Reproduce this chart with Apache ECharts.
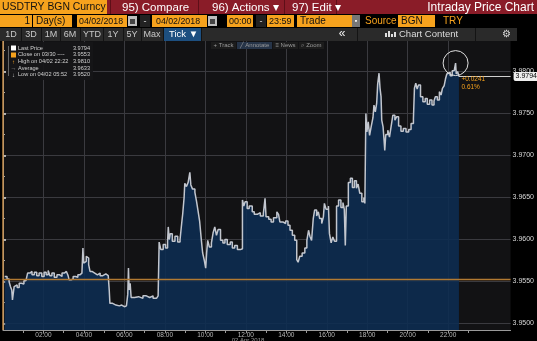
<!DOCTYPE html>
<html><head><meta charset="utf-8">
<script src="https://cdn.jsdelivr.net/npm/echarts@6/dist/echarts.min.js"></script>
<style>html,body{margin:0;padding:0;background:#000;}#c{width:537px;height:341px;}</style>
</head><body><div id="c"></div>
<script>
// ---- data ----
const times = [
'00:05','00:12','00:18','00:22','00:26','00:28','00:31','00:33','00:36','00:42',
'00:48','00:55','01:02','01:08','01:13','01:20','01:26','01:33','01:40','01:47',
'01:55','02:02','02:08','02:14','02:19','02:25','02:32','02:40','02:48','02:55',
'03:02','03:08','03:13','03:16','03:22','03:28','03:35','03:42','03:48','03:54',
'03:57','03:59','04:03','04:07','04:10','04:14','04:18','04:24','04:32','04:40',
'04:48','04:56','05:05','05:12','05:15','05:17','05:25','05:35','05:45','05:52',
'06:00','06:06','06:10','06:12','06:14','06:17','06:20','06:30','06:42','06:55',
'07:05','07:15','07:25','07:35','07:40','07:43','07:48','07:55','08:02','08:08',
'08:10','08:13','08:16','08:22','08:30','08:38','08:45','08:50','08:53','08:57',
'08:59','09:04','09:09','09:14','09:17','09:22','09:29','09:34','09:38','09:43',
'09:48','09:52','09:57','10:01','10:04','10:07','10:12','10:18','10:23','10:28',
'10:33','10:38','10:45','10:52','10:58','11:05','11:14','11:20','11:27','11:35',
'11:44','11:50','11:54','11:58','12:04','12:10','12:19','12:25','12:34','12:43',
'12:52','12:57','13:00','13:08','13:15','13:22','13:32','13:37','13:41','13:50',
'13:58','14:05','14:11','14:18','14:25','14:31','14:35','14:40','14:47','14:55',
'15:01','15:06','15:10','15:15','15:20','15:24','15:30','15:35','15:39','15:45',
'15:50','15:53','15:58','16:05','16:08','16:13','16:18','16:23','16:29','16:35',
'16:42','16:48','16:52','16:55','16:58','17:04','17:10','17:16','17:22','17:28',
'17:33','17:38','17:44','17:50','17:53','17:56','17:59','18:03','18:07','18:12',
'18:17','18:20','18:24','18:28','18:31','18:35','18:38','18:41','18:43','18:47',
'18:50','18:52','18:55','19:01','19:06','19:11','19:16','19:22','19:27','19:33',
'19:40','19:47','19:55','20:03','20:10','20:17','20:20','20:24','20:28','20:32',
'20:38','20:45','20:52','20:58','21:05','21:12','21:18','21:22','21:28','21:34',
'21:39','21:43','21:48','21:52','21:56','22:00','22:06','22:12','22:18','22:22',
'22:24','22:28','22:32'
];
const prices = [
3.9556,3.9553,3.9550,3.9544,3.9540,3.9528,3.9530,3.9544,3.9546,3.9543,
3.9548,3.9547,3.9551,3.9550,3.9560,3.9562,3.9558,3.9561,3.9557,3.9560,
3.9556,3.9561,3.9558,3.9563,3.9557,3.9560,3.9555,3.9558,3.9556,3.9560,
3.9562,3.9564,3.9557,3.9552,3.9553,3.9556,3.9555,3.9558,3.9560,3.9562,
3.9590,3.9572,3.9574,3.9580,3.9578,3.9570,3.9562,3.9560,3.9558,3.9560,
3.9557,3.9559,3.9557,3.9558,3.9540,3.9524,3.9522,3.9521,3.9522,3.9520,
3.9521,3.9523,3.9535,3.9566,3.9540,3.9548,3.9531,3.9532,3.9530,3.9533,
3.9531,3.9533,3.9530,3.9531,3.9533,3.9597,3.9588,3.9594,3.9590,3.9597,
3.9615,3.9600,3.9607,3.9598,3.9604,3.9597,3.9600,3.9620,3.9631,3.9650,
3.9667,3.9663,3.9668,3.9680,3.9665,3.9660,3.9656,3.9645,3.9635,3.9622,
3.9600,3.9584,3.9575,3.9566,3.9585,3.9599,3.9591,3.9596,3.9608,3.9615,
3.9605,3.9612,3.9599,3.9596,3.9600,3.9594,3.9597,3.9590,3.9593,3.9588,
3.9589,3.9647,3.9640,3.9645,3.9637,3.9640,3.9633,3.9630,3.9632,3.9628,
3.9631,3.9649,3.9627,3.9624,3.9621,3.9626,3.9633,3.9630,3.9621,3.9619,
3.9622,3.9617,3.9611,3.9605,3.9599,3.9576,3.9573,3.9580,3.9584,3.9590,
3.9599,3.9611,3.9604,3.9599,3.9625,3.9635,3.9628,3.9633,3.9625,3.9619,
3.9627,3.9643,3.9636,3.9640,3.9607,3.9596,3.9603,3.9598,3.9640,3.9647,
3.9638,3.9644,3.9636,3.9593,3.9640,3.9668,3.9673,3.9662,3.9670,3.9661,
3.9666,3.9655,3.9645,3.9650,3.9643,3.9750,3.9728,3.9740,3.9724,3.9735,
3.9745,3.9760,3.9752,3.9762,3.9785,3.9798,3.9780,3.9770,3.9742,3.9734,
3.9718,3.9706,3.9725,3.9730,3.9722,3.9735,3.9748,3.9742,3.9746,3.9735,
3.9729,3.9732,3.9728,3.9731,3.9738,3.9744,3.9780,3.9786,3.9779,3.9784,
3.9770,3.9764,3.9768,3.9761,3.9766,3.9760,3.9765,3.9770,3.9766,3.9776,
3.9772,3.9780,3.9783,3.9791,3.9797,3.9799,3.9795,3.9801,3.9800,3.9810,
3.9797,3.9800,3.9794
];
const yMajor = [3.9500,3.9550,3.9600,3.9650,3.9700,3.9750,3.9800];
const yMinor = [3.9525,3.9575,3.9625,3.9675,3.9725,3.9775,3.9825];
const xLabelHours = [2,4,6,8,10,12,14,16,18,20,22];
const xMinorHours = [1,3,5,7,9,11,13,15,17,19,21,23];
const closePrev = 3.9553;
const lastPrice = 3.9794;
const highTime = '22:22', highPrice = 3.9810;
const changeAbs = '+0.0241', changePct = '0.61%';
const legendRows = [
  ['Last Price','3.9794'],
  ['Close on 03/30 ----','3.9553'],
  ['High on 04/02 22:22','3.9810'],
  ['Average','3.9633'],
  ['Low on 04/02 05:52','3.9520']
];
const dateLabel = '02 Apr 2018';

// ---- helpers ----
const FONT = 'Liberation Sans, Arial, sans-serif';
const toH = t => { const p = t.split(':'); return +p[0] + (+p[1]) / 60; };
const pad = n => (n < 10 ? '0' : '') + n;
const seriesData = times.map((t, i) => [toH(t), prices[i]]);
const lastT = toH(times[times.length - 1]);
const X_MAX = 25.085, Y_MIN = 3.94923, Y_MAX = 3.98363;

function rect(x, y, w, h, fill, z) {
  return {type:'rect', z: z||100, shape:{x, y, width:w, height:h}, style:{fill}, silent:true};
}
function txt(x, y, text, fill, size, align, weight) {
  return {type:'text', z:101, x, y, silent:true,
    style:{text, fill, font:(weight||'normal') + ' ' + size + 'px ' + FONT,
      align: align||'left', textAlign: align||'left', verticalAlign:'middle', textVerticalAlign:'middle'}};
}
function vline(x, y1, y2, color) {
  return {type:'line', z:101, silent:true, shape:{x1:x, y1, x2:x, y2}, style:{stroke:color, lineWidth:1}};
}

const ORANGE = '#f6a21d', RED = '#8a1c28', DARK = '#111';
const g = [];
// Row 1
g.push(rect(0,0,537,14,RED));
g.push(rect(0,0,107,14,ORANGE));
g.push(txt(2,7.5,'USDTRY BGN Curncy',DARK,10.4));
[110,198,284,336].forEach(x => g.push(vline(x+0.5,0,14,'#5e0f18')));
g.push(txt(122,7.5,'95) Compare','#fff',11.5));
g.push(txt(212,7.5,'96) Actions \u25BE','#fff',11.5));
g.push(txt(292,7.5,'97) Edit \u25BE','#fff',11.5));
g.push(txt(534,7.5,'Intraday Price Chart','#fff',12,'right'));
// Row 2
g.push(rect(0,14,537,14,'#000'));
const boxes = [[0,32],[33,39],[77,50],[152,55],[227,26],[267,27],[297,55],[398,37]];
boxes.forEach(b => g.push(rect(b[0],15,b[1],12,ORANGE)));
g.push(txt(30,21.5,'1',DARK,10,'right'));
g.push(txt(36,21.5,'Day(s)',DARK,10));
g.push(txt(79,21.5,'04/02/2018',DARK,8.8));
g.push(txt(156,21.5,'04/02/2018',DARK,8.8));
g.push(txt(229,21.5,'00:00',DARK,9));
g.push(txt(269,21.5,'23:59',DARK,9));
g.push(txt(300,21.5,'Trade',DARK,10));
g.push(txt(401,21.5,'BGN',DARK,10));
[128,208].forEach(x => { g.push(rect(x,16,9,10,'#bdbdbd')); g.push(rect(x+2,19,5,5,'#444')); });
[140,256].forEach(x => { g.push(rect(x,15,10,12,'#222')); g.push(txt(x+5,21.5,'-','#ddd',9,'center')); });
g.push(rect(352,15,8,12,'#777'));
g.push(txt(356,21.5,'\u25AA','#fff',7,'center'));
g.push(txt(365,21.5,'Source',ORANGE,10));
g.push(txt(443,21.5,'TRY',ORANGE,10));
// Row 3
g.push(rect(0,28,517,13,'#2a2a2a'));
const btns = [['1D',11],['3D',31],['1M',51],['6M',70],['YTD',92],['1Y',113],['5Y',132],['Max',152]];
btns.forEach(b => g.push(txt(b[1],34.5,b[0],'#c8c8c8',9,'center')));
[21,41,60,80,103,123,141,163,201,357,475].forEach(x => g.push(vline(x+0.5,28,41,'#141414')));
g.push(rect(164,28,37,13,'#1d4f80'));
g.push(txt(169,34.5,'Tick \u25BC','#fff',9.5));
g.push(txt(342,34,'\u00AB','#eee',12,'center'));
g.push(rect(385,33,2,4,'#ddd')); g.push(rect(388,31,2,6,'#ddd')); g.push(rect(391,34,2,3,'#ddd')); g.push(rect(394,32,2,5,'#ddd'));
g.push(txt(399,34.5,'Chart Content','#ddd',9.5));
g.push(txt(506,34.5,'\u2699','#ddd',10,'center'));
// toolbar
[[211,25,'#1c1c1c','+ Track'],[237,35,'#263448','\u2571 Annotate'],[273,25,'#1c1c1c','\u2261 News'],[299,25,'#1c1c1c','\u2315 Zoom']]
  .forEach(t => { g.push(rect(t[0],42,t[1],7,t[2])); g.push(txt(t[0]+t[1]/2,45.5,t[3],'#9a9a9a',6,'center')); });
// legend box
g.push(rect(6,42,87,38,'rgba(22,22,24,0.92)'));
g.push(vline(8.5,46,76,'#666'));
g.push(rect(11,45.5,5,5,'#fff'));
g.push(rect(11,52.5,5,5,ORANGE));
g.push(txt(13.5,62,'\u2191',ORANGE,6,'center'));
g.push(txt(13.5,68.5,'\u2192','#999',6,'center'));
g.push(txt(13.5,75,'\u2193','#ccc',6,'center'));
legendRows.forEach((r, i) => {
  const y = 48 + i * 6.7;
  g.push(txt(18, y, r[0], '#d0d0d0', 5.6));
  g.push(txt(90, y, r[1], '#d0d0d0', 5.6, 'right'));
});
g.push(txt(248,340.5,dateLabel,'#999',6,'center'));

const chart = echarts.init(document.getElementById('c'), null, {renderer:'canvas'});
chart.setOption({
  backgroundColor:'#000',
  animation:false,
  grid:{left:3, top:41, width:513, height:289, show:true, backgroundColor:'#121214', borderWidth:0},
  xAxis:[{
    type:'value', min:0, max:X_MAX, position:'bottom',
    axisLine:{show:true, lineStyle:{color:'#9a9a9a', width:1}},
    axisTick:{show:true, customValues:xLabelHours, length:3, lineStyle:{color:'#9a9a9a'}},
    axisLabel:{customValues:xLabelHours, formatter:v => pad(Math.round(v)) + ':00', color:'#b8b8b8', fontSize:6.5, margin:2, fontFamily:FONT},
    splitLine:{show:true, lineStyle:{color:'#3a3a3f', width:1}}
  },{
    type:'value', min:0, max:X_MAX, position:'bottom',
    axisLine:{show:false},
    axisTick:{show:true, customValues:xMinorHours, length:3, lineStyle:{color:'#9a9a9a'}},
    axisLabel:{show:false}, splitLine:{show:false}
  }],
  yAxis:[{
    type:'value', min:Y_MIN, max:Y_MAX, position:'right',
    axisLine:{show:true, lineStyle:{color:'#bdbdbd', width:1}},
    axisTick:{show:true, customValues:yMajor, length:3, lineStyle:{color:'#ddd', width:1.5}},
    axisLabel:{customValues:yMajor, formatter:v => v.toFixed(4), color:'#d8d8d8', fontSize:7, margin:2, fontFamily:FONT},
    splitLine:{show:true, lineStyle:{color:'#3a3a3f', width:1}}
  },{
    type:'value', min:Y_MIN, max:Y_MAX, position:'right',
    axisLine:{show:false},
    axisTick:{show:true, customValues:yMinor, length:2, lineStyle:{color:'#aaa'}},
    axisLabel:{show:false}, splitLine:{show:false}
  }],
  series:[{
    type:'line', xAxisIndex:0, yAxisIndex:0, step:'end', showSymbol:false, symbol:'none',
    data:seriesData, z:3,
    lineStyle:{color:'#c2c6ce', width:1.5},
    areaStyle:{color:'#0d2c52', opacity:0.88, origin:'start'},
    markLine:{
      silent:true, symbol:['none','none'], precision:6,
      data:[
        [{coord:[lastT, lastPrice]}, {coord:[X_MAX, lastPrice]}]
      ],
      lineStyle:{color:'#cfcfcf', width:1, type:'solid'},
      label:{show:true, position:'end', distance:3, formatter:lastPrice.toFixed(4), color:'#000',
        backgroundColor:'#eeeeee', padding:[1,2,1,2], borderRadius:2, fontSize:7, fontFamily:FONT}
    },
    markPoint:{
      silent:true,
      data:[
        {coord:[toH(highTime), highPrice], symbol:'circle', symbolSize:25,
          itemStyle:{color:'rgba(0,0,0,0)', borderColor:'#e0e0e0', borderWidth:1}, label:{show:false}},
        {coord:[lastT, lastPrice], symbol:'circle', symbolSize:1, itemStyle:{color:'rgba(0,0,0,0)'},
          label:{show:true, position:'right', distance:2, offset:[0,7], formatter:changeAbs + '\n' + changePct,
            color:ORANGE, fontSize:6.5, lineHeight:8, fontFamily:FONT}}
      ]
    }
  },{
    type:'line', xAxisIndex:0, yAxisIndex:0, data:[], z:4,
    markLine:{
      silent:true, symbol:['none','none'], precision:6, label:{show:false},
      data:[
        {yAxis:closePrev, lineStyle:{color:'#b27a32', width:1.3, type:'solid'}},
        {xAxis:0, lineStyle:{color:'#c08a48', width:1.5, type:'solid'}}
      ]
    }
  }],
  graphic:{elements:g}
});
</script></body></html>
